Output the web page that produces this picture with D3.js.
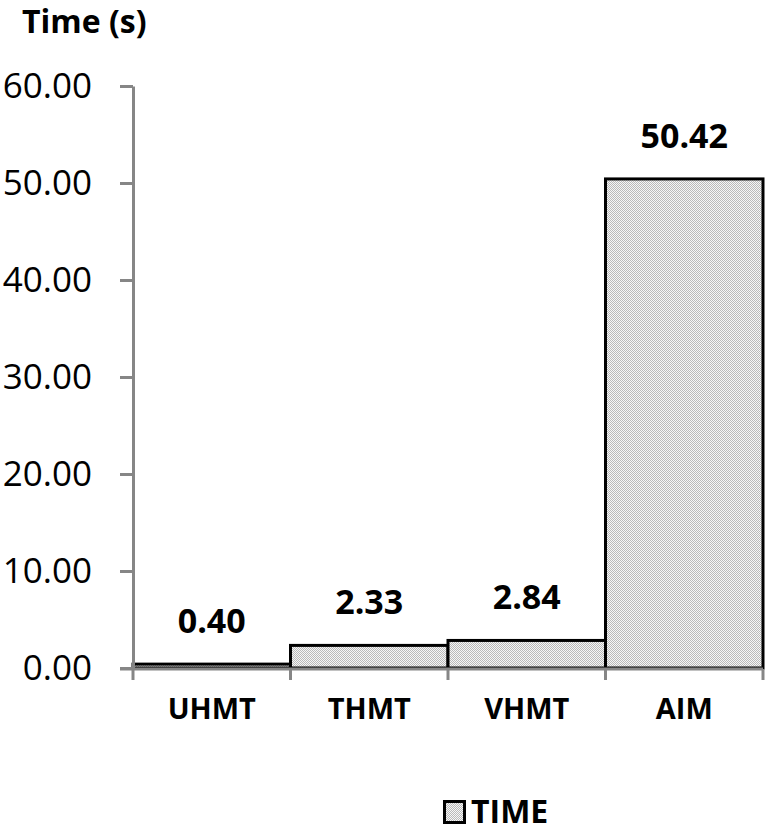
<!DOCTYPE html>
<html>
<head>
<meta charset="utf-8">
<script src="https://cdn.jsdelivr.net/npm/d3@7"></script>
<style>
  html, body { margin: 0; padding: 0; background: #fff; }
  #chart svg { display: block; }
</style>
</head>
<body>
<div id="chart"></div>
<script>
// Data
var categories = ["UHMT", "THMT", "VHMT", "AIM"];
var timeValues = [0.40, 2.33, 2.84, 50.42];
var yTicks = [0, 10, 20, 30, 40, 50, 60];
var seriesName = "TIME";
var axisTitle = "Time (s)";

function initializeChart() {
    // Delete previous SVG if it exists
    d3.select("#chart").select("svg").remove();

    var width = 766, height = 833;
    var font = "'Open Sans', 'DejaVu Sans', sans-serif";

    var svg = d3.select("#chart").append("svg")
        .attr("width", width)
        .attr("height", height);

    // Dotted gray fill like the original
    var pat = svg.append("defs").append("pattern")
        .attr("id", "dots")
        .attr("patternUnits", "userSpaceOnUse")
        .attr("width", 2)
        .attr("height", 2);
    pat.append("rect").attr("width", 2).attr("height", 2).attr("fill", "#f6f6f6");
    pat.append("rect").attr("width", 1).attr("height", 1).attr("fill", "#b9b9b9");
    pat.append("rect").attr("x", 1).attr("y", 1).attr("width", 1).attr("height", 1).attr("fill", "#b9b9b9");

    // Scales
    var x = d3.scaleBand()
        .domain(categories)
        .range([133, 763])
        .padding(0);

    var y = d3.scaleLinear()
        .domain([0, 60])
        .range([668, 86]);

    // Bars
    svg.selectAll(".bar")
        .data(timeValues)
        .enter()
        .append("rect")
        .attr("class", "bar")
        .attr("x", function (d, i) { return x(categories[i]); })
        .attr("y", function (d) { return y(d); })
        .attr("width", x.bandwidth())
        .attr("height", function (d) { return y(0) - y(d); })
        .attr("fill", "url(#dots)")
        .attr("stroke", "#000")
        .attr("stroke-width", 3);

    // Value labels
    svg.selectAll(".val")
        .data(timeValues)
        .enter()
        .append("text")
        .attr("x", function (d, i) { return x(categories[i]) + x.bandwidth() / 2; })
        .attr("y", function (d) { return y(d) - 31; })
        .attr("text-anchor", "middle")
        .style("font-family", font)
        .style("font-weight", "bold")
        .style("font-size", "34px")
        .text(function (d) { return d3.format(".2f")(d); });

    // Y axis
    var yAxis = svg.append("g")
        .attr("transform", "translate(133,0)")
        .call(d3.axisLeft(y).tickValues(yTicks).tickFormat(d3.format(".2f"))
            .tickSize(13).tickSizeOuter(0).tickPadding(28));
    yAxis.select(".domain").attr("stroke", "#868686").attr("stroke-width", 3);
    yAxis.selectAll(".tick line").attr("stroke", "#868686").attr("stroke-width", 3);
    yAxis.selectAll(".tick text")
        .attr("fill", "#000")
        .style("font-family", font)
        .style("font-size", "35px");

    // X axis
    var xAxis = svg.append("g")
        .attr("transform", "translate(0,669)")
        .call(d3.axisBottom(x).tickSize(0).tickSizeOuter(0).tickPadding(29));
    xAxis.select(".domain").remove();
    xAxis.append("line")
        .attr("x1", 120).attr("x2", 763)
        .attr("stroke", "#868686").attr("stroke-width", 3);
    xAxis.selectAll(".bound")
        .data(categories.concat([null]))
        .enter()
        .append("line")
        .attr("x1", function (d, i) { return i < categories.length ? x(d) : x.range()[1]; })
        .attr("x2", function (d, i) { return i < categories.length ? x(d) : x.range()[1]; })
        .attr("y1", 0).attr("y2", 11)
        .attr("stroke", "#868686").attr("stroke-width", 3);
    xAxis.selectAll(".tick text")
        .attr("fill", "#000")
        .style("font-family", font)
        .style("font-weight", "bold")
        .style("font-size", "29px");

    // Axis title
    svg.append("text")
        .attr("x", 22)
        .attr("y", 33)
        .style("font-family", font)
        .style("font-weight", "bold")
        .style("font-size", "32px")
        .text(axisTitle);

    // Legend (kept a little above the bottom edge so the text is not cut)
    var legend = svg.append("g").attr("transform", "translate(443,800)");
    legend.append("rect")
        .attr("x", 1.5).attr("y", 1.5)
        .attr("width", 20).attr("height", 21)
        .attr("fill", "url(#dots)")
        .attr("stroke", "#000")
        .attr("stroke-width", 3);
    legend.append("text")
        .attr("x", 28)
        .attr("y", 23)
        .style("font-family", font)
        .style("font-weight", "bold")
        .style("font-size", "32px")
        .text(seriesName);
}

document.addEventListener('DOMContentLoaded', initializeChart);
</script>
</body>
</html>
